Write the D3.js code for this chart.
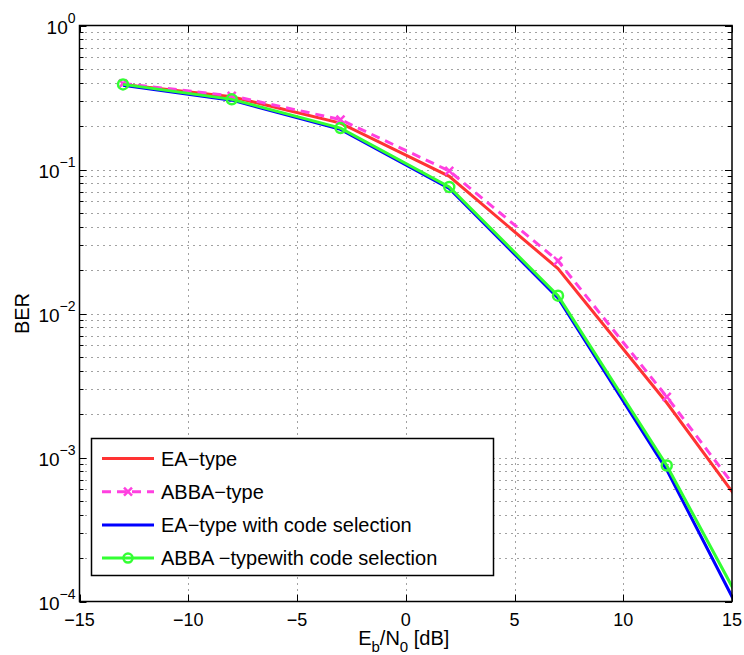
<!DOCTYPE html>
<html>
<head>
<meta charset="utf-8">
<script src="https://cdn.jsdelivr.net/npm/d3@7"></script>
<style>
  body { margin: 0; background: #fff; }
  text { font-family: "Liberation Sans", Arial, sans-serif; fill: #000; }
</style>
</head>
<body>
<div id="chart"></div>
<script>
// Eb/N0 sample points (last point lies beyond the axis and is clipped)
const snr = [-13, -8, -3, 2, 7, 12, 17];
const eaType = [0.39, 0.32, 0.21, 0.0897, 0.0205, 0.0024, 0.000225];
const abbaType = [0.395, 0.325, 0.222, 0.0977, 0.0232, 0.00264, 0.000266];
const eaCodeSel = [0.385, 0.303, 0.19, 0.074, 0.0128, 0.00082, 0.000028];
const abbaCodeSel = [0.39, 0.307, 0.194, 0.0756, 0.0133, 0.00088, 0.000035];
const xTicks = [-15, -10, -5, 0, 5, 10, 15];
const yDecades = [0, -1, -2, -3, -4];
const seriesNames = ["EA\u2212type", "ABBA\u2212type", "EA\u2212type with code selection", "ABBA \u2212typewith code selection"];

const width = 744, height = 655;
const margin = { top: 25.5, right: 12, bottom: 53.5, left: 79.5 };

const svg = d3.select("#chart").append("svg")
    .attr("width", width)
    .attr("height", height);

const x = d3.scaleLinear().domain([-15, 15]).range([margin.left, width - margin.right]);
const y = d3.scaleLog().domain([1e-4, 1]).range([height - margin.bottom, margin.top]);

const plotW = width - margin.right - margin.left;
const plotH = height - margin.bottom - margin.top;

// minor y values for grid
const yMinor = [];
for (let e = -4; e < 0; e++) {
    for (let m = 2; m <= 9; m++) yMinor.push(m * Math.pow(10, e));
}

const grid = svg.append("g").attr("class", "grid")
    .style("stroke", "#444")
    .style("stroke-width", 1)
    .style("stroke-dasharray", "1,5");

grid.selectAll(".gx").data(xTicks.slice(1, -1)).enter().append("line")
    .attr("x1", d => Math.round(x(d)) + 0.5).attr("x2", d => Math.round(x(d)) + 0.5)
    .attr("y1", margin.top).attr("y2", height - margin.bottom);

grid.selectAll(".gy").data(yMinor.concat([1e-3, 1e-2, 1e-1])).enter().append("line")
    .attr("x1", margin.left).attr("x2", width - margin.right)
    .attr("y1", d => Math.round(y(d)) + 0.5).attr("y2", d => Math.round(y(d)) + 0.5);

// series
const series = [
    { name: seriesNames[0], values: eaType, color: "#ff3333", dash: null, marker: null },
    { name: seriesNames[1], values: abbaType, color: "#ff40e0", dash: "9,6", marker: "x" },
    { name: seriesNames[2], values: eaCodeSel, color: "#0000ff", dash: null, marker: null },
    { name: seriesNames[3], values: abbaCodeSel, color: "#33ff33", dash: null, marker: "o" }
];

svg.append("clipPath").attr("id", "clip")
    .append("rect")
    .attr("x", margin.left).attr("y", margin.top)
    .attr("width", plotW).attr("height", plotH);

const line = d3.line()
    .x((d, i) => x(snr[i]))
    .y(d => y(d));

const plot = svg.append("g").attr("clip-path", "url(#clip)");

series.forEach(s => {
    plot.append("path")
        .datum(s.values)
        .attr("d", line)
        .style("fill", "none")
        .style("stroke", s.color)
        .style("stroke-width", 3)
        .style("stroke-dasharray", s.dash);

    const pts = s.values.map((v, i) => [snr[i], v]).filter(p => p[0] <= 15);
    if (s.marker === "o") {
        plot.selectAll(null).data(pts).enter().append("circle")
            .attr("cx", d => x(d[0])).attr("cy", d => y(d[1]))
            .attr("r", 5)
            .style("fill", "none")
            .style("stroke", s.color)
            .style("stroke-width", 2.5);
    } else if (s.marker === "x") {
        plot.selectAll(null).data(pts).enter().append("path")
            .attr("transform", d => `translate(${x(d[0])},${y(d[1])})`)
            .attr("d", "M-4,-4L4,4M-4,4L4,-4")
            .style("stroke", s.color)
            .style("stroke-width", 2.5);
    }
});

// axes box
const axes = svg.append("g").style("stroke", "#000").style("stroke-width", 1.5);
axes.append("rect")
    .attr("x", margin.left).attr("y", margin.top)
    .attr("width", plotW).attr("height", plotH)
    .style("fill", "none");

// x ticks
xTicks.forEach(t => {
    const px = Math.round(x(t)) + 0.5;
    axes.append("line").attr("x1", px).attr("x2", px)
        .attr("y1", height - margin.bottom).attr("y2", height - margin.bottom - 7).style("stroke-width", 1);
    axes.append("line").attr("x1", px).attr("x2", px)
        .attr("y1", margin.top).attr("y2", margin.top + 7).style("stroke-width", 1);
    svg.append("text")
        .attr("x", x(t)).attr("y", height - margin.bottom + 24)
        .attr("text-anchor", "middle")
        .style("font-size", "18px")
        .text(t < 0 ? "\u2212" + Math.abs(t) : t);
});

// y ticks
yMinor.forEach(v => {
    const py = Math.round(y(v)) + 0.5;
    axes.append("line").attr("x1", margin.left).attr("x2", margin.left + 4)
        .attr("y1", py).attr("y2", py).style("stroke-width", 1);
    axes.append("line").attr("x1", width - margin.right).attr("x2", width - margin.right - 4)
        .attr("y1", py).attr("y2", py).style("stroke-width", 1);
});
yDecades.forEach(e => {
    const py = Math.round(y(Math.pow(10, e))) + 0.5;
    axes.append("line").attr("x1", margin.left).attr("x2", margin.left + 7)
        .attr("y1", py).attr("y2", py).style("stroke-width", 1);
    axes.append("line").attr("x1", width - margin.right).attr("x2", width - margin.right - 7)
        .attr("y1", py).attr("y2", py).style("stroke-width", 1);
    const t = svg.append("text")
        .attr("x", margin.left - 4).attr("y", y(Math.pow(10, e)) + 8)
        .attr("text-anchor", "end")
        .style("font-size", "19px");
    t.append("tspan").text("10");
    t.append("tspan").attr("dy", -11).style("font-size", "14px")
        .text(e === 0 ? "0" : "\u2212" + Math.abs(e));
});

// axis labels
svg.append("text")
    .attr("transform", `translate(29,${margin.top + plotH / 2}) rotate(-90)`)
    .attr("text-anchor", "middle")
    .style("font-size", "20px")
    .text("BER");

const xl = svg.append("text")
    .attr("x", x(0) - 2).attr("y", 645)
    .attr("text-anchor", "middle")
    .style("font-size", "20px");
xl.append("tspan").text("E");
xl.append("tspan").attr("dy", 7).style("font-size", "15px").text("b");
xl.append("tspan").attr("dy", -7).text("/N");
xl.append("tspan").attr("dy", 7).style("font-size", "15px").text("0");
xl.append("tspan").attr("dy", -7).text(" [dB]");

// legend
const legend = svg.append("g").attr("class", "legend");
legend.append("rect")
    .attr("x", 91.5).attr("y", 438.5)
    .attr("width", 402).attr("height", 137)
    .style("fill", "#fff")
    .style("stroke", "#000")
    .style("stroke-width", 1.5);

const items = legend.selectAll(".legend-item")
    .data(series)
    .enter().append("g")
    .attr("class", "legend-item")
    .attr("transform", (d, i) => `translate(0, ${458.5 + i * 33.2})`);

items.append("line")
    .attr("x1", 102).attr("x2", 154)
    .style("stroke", d => d.color)
    .style("stroke-width", 3)
    .style("stroke-dasharray", d => d.dash);

items.filter(d => d.marker === "o").append("circle")
    .attr("cx", 128).attr("r", 4.5)
    .style("fill", "none")
    .style("stroke", d => d.color)
    .style("stroke-width", 2.5);

items.filter(d => d.marker === "x").append("path")
    .attr("transform", "translate(128,0)")
    .attr("d", "M-4,-4L4,4M-4,4L4,-4")
    .style("stroke", d => d.color)
    .style("stroke-width", 2.5);

items.append("text")
    .attr("x", 161).attr("y", 7)
    .style("font-size", "20px")
    .text(d => d.name);
</script>
</body>
</html>
